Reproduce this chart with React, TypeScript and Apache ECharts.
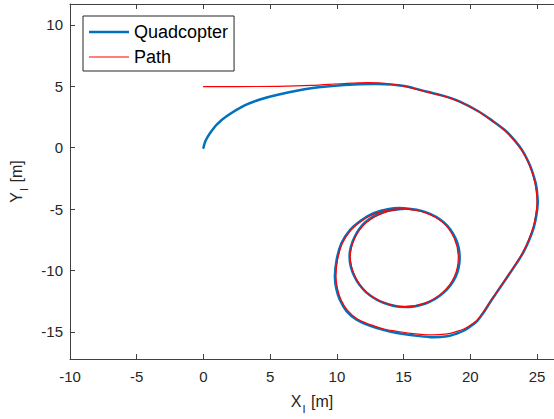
import React, { useEffect, useRef } from 'react';
import * as echarts from 'echarts';

const xTicks = [-10, -5, 0, 5, 10, 15, 20, 25];
const yTicks = [-15, -10, -5, 0, 5, 10];

const pathX = [0, 2.5, 5.57, 8.04, 10.55, 12.3, 13.6, 15.03, 16.77, 18.0, 19.25, 20.6, 21.75, 22.6, 23.3, 23.85, 24.3, 24.6, 24.85, 24.95, 25.0, 24.9, 24.7, 24.36, 23.95, 23.45, 22.95, 22.45, 21.95, 21.45, 21.0, 20.5, 20.0, 19.51, 19.0, 18.26, 17.01, 15.52, 14.5, 13.54, 12.5, 11.54, 10.8, 10.3, 10.05, 9.93, 10.05, 10.4, 11.04, 11.8, 12.79, 13.9, 15.03, 16.6, 17.95, 18.8, 19.1, 18.8, 17.9, 16.6, 15.05, 13.5, 12.2, 11.35, 11.0, 11.35, 12.2, 13.5, 15.03, 15.8];
const pathY = [4.97, 4.98, 5.0, 5.07, 5.23, 5.3, 5.25, 5.02, 4.52, 4.2, 3.72, 2.95, 2.11, 1.4, 0.6, -0.2, -1.1, -1.9, -2.9, -3.6, -4.5, -5.5, -6.5, -7.53, -8.5, -9.4, -10.2, -11.0, -11.8, -12.6, -13.35, -14.05, -14.45, -14.76, -14.95, -15.16, -15.24, -15.11, -14.95, -14.76, -14.4, -13.95, -13.25, -12.35, -11.5, -10.47, -9.13, -7.8, -6.72, -6.0, -5.39, -5.05, -4.99, -5.28, -6.1, -7.4, -8.93, -10.5, -11.8, -12.65, -12.94, -12.6, -11.75, -10.45, -8.87, -7.35, -6.1, -5.3, -4.97, -5.05];

const quadX = [0, 0.15, 0.5, 1.05, 1.84, 3.09, 4.3, 5.57, 8.06, 10.55, 13.04, 15.03, 16.77, 18.0, 19.25, 20.6, 21.75, 22.62, 23.32, 23.88, 24.33, 24.63, 24.9, 25.0, 25.05, 24.95, 24.75, 24.4, 23.98, 23.47, 22.97, 22.47, 21.97, 21.47, 21.0, 20.5, 20.0, 19.5, 19.0, 18.26, 17.01, 15.52, 14.5, 13.54, 12.45, 11.48, 10.72, 10.22, 9.96, 9.85, 9.98, 10.34, 10.98, 11.75, 12.75, 13.9, 15.03, 16.65, 18.02, 18.9, 19.2, 18.9, 17.98, 16.65, 15.05, 13.5, 12.18, 11.3, 10.95, 11.3, 12.15, 13.45, 15.03, 15.6];
const quadY = [0, 0.55, 1.2, 1.95, 2.64, 3.45, 3.95, 4.32, 4.84, 5.11, 5.19, 5.03, 4.55, 4.22, 3.74, 2.97, 2.12, 1.4, 0.6, -0.2, -1.1, -1.9, -2.9, -3.6, -4.5, -5.5, -6.5, -7.53, -8.5, -9.4, -10.2, -11.0, -11.8, -12.6, -13.4, -14.12, -14.55, -14.9, -15.12, -15.35, -15.42, -15.25, -15.08, -14.85, -14.48, -14.0, -13.3, -12.38, -11.5, -10.47, -9.13, -7.78, -6.7, -5.96, -5.33, -4.98, -4.93, -5.24, -6.08, -7.4, -8.93, -10.5, -11.82, -12.68, -12.97, -12.62, -11.75, -10.45, -8.87, -7.33, -6.05, -5.25, -4.96, -5.0];

const FONT = 'Liberation Sans, Arial, Helvetica, sans-serif';
const AX = '#404040';
const TXT = '#262626';
const BLUE = '#0072BD';
const RED = '#FF0000';

export default function App() {
  const ref = useRef<HTMLDivElement>(null);
  useEffect(() => {
    document.body.style.margin = '0';
    const chart = echarts.init(ref.current!, null, { renderer: 'svg' });
    const zip = (xs: number[], ys: number[]) => xs.map((x, i) => [x, ys[i]]);
    const curve = (name: string, xs: number[], ys: number[], color: string, width: number, z: number) => ({
      name,
      type: 'custom',
      coordinateSystem: 'cartesian2d',
      data: zip(xs, ys),
      encode: { x: 0, y: 1 },
      itemStyle: { color },
      z,
      silent: true,
      renderItem: (params: any, api: any) => {
        if (params.dataIndex !== 0) return null;
        const pts = xs.map((x, i) => api.coord([x, ys[i]]));
        return {
          type: 'polyline',
          shape: { points: pts, smooth: 0.35 },
          style: { stroke: color, lineWidth: width, fill: null, lineJoin: 'round', lineCap: 'round' },
          silent: true,
        };
      },
    });
    const nameRich = {
      a: { fontSize: 16, color: TXT, fontFamily: FONT, verticalAlign: 'top', lineHeight: 18 },
      s: { fontSize: 11, color: TXT, fontFamily: FONT, verticalAlign: 'top', lineHeight: 11, padding: [10, 1, 0, 1] },
    };
    chart.setOption({
      animation: false,
      grid: { left: 70, top: 4, right: -2, bottom: 55.3 },
      legend: {
        data: [
          { name: 'Quadcopter', icon: 'path://M0,0L40,0L40,2.5L0,2.5Z' },
          { name: 'Path', icon: 'path://M0,0L40,0L40,1.2L0,1.2Z' },
        ],
        orient: 'vertical',
        left: 83,
        top: 16,
        padding: [7, 6, 5, 6],
        itemWidth: 40,
        itemHeight: 14,
        itemGap: 7,
        borderColor: '#262626',
        borderWidth: 1,
        backgroundColor: '#fff',
        textStyle: { fontSize: 18, color: '#000', fontFamily: FONT },
      },
      xAxis: [
        {
          type: 'value',
          min: -10,
          max: 26.27,
          position: 'bottom',
          name: '{a|X}{s|I}{a| [m]}',
          nameLocation: 'middle',
          nameGap: 34,
          nameTextStyle: { rich: nameRich },
          axisLine: { onZero: false, lineStyle: { color: AX, width: 1 } },
          axisTick: { inside: true, length: 5, customValues: xTicks, lineStyle: { color: AX } },
          axisLabel: { customValues: xTicks, margin: 10, fontSize: 15, color: TXT, fontFamily: FONT },
          splitLine: { show: false },
        },
        {
          type: 'value',
          min: -10,
          max: 26.27,
          position: 'top',
          axisLine: { onZero: false, lineStyle: { color: AX, width: 1 } },
          axisTick: { inside: true, length: 5, customValues: xTicks, lineStyle: { color: AX } },
          axisLabel: { show: false },
          splitLine: { show: false },
        },
      ],
      yAxis: {
        type: 'value',
        min: -17.2,
        max: 11.7,
        name: '{a|Y}{s|I}{a| [m]}',
        nameLocation: 'middle',
        nameGap: 44,
        nameTextStyle: { rich: nameRich },
        axisLine: { show: true, onZero: false, lineStyle: { color: AX, width: 1 } },
        axisTick: { show: true, inside: true, length: 5, customValues: yTicks, lineStyle: { color: AX } },
        axisLabel: { customValues: yTicks, margin: 7, fontSize: 15, color: TXT, fontFamily: FONT },
        splitLine: { show: false },
      },
      series: [
        curve('Quadcopter', quadX, quadY, BLUE, 2.5, 2),
        curve('Path', pathX, pathY, RED, 1.2, 3),
      ],
    });
    return () => chart.dispose();
  }, []);
  return <div ref={ref} style={{ width: 554, height: 419 }} />;
}
